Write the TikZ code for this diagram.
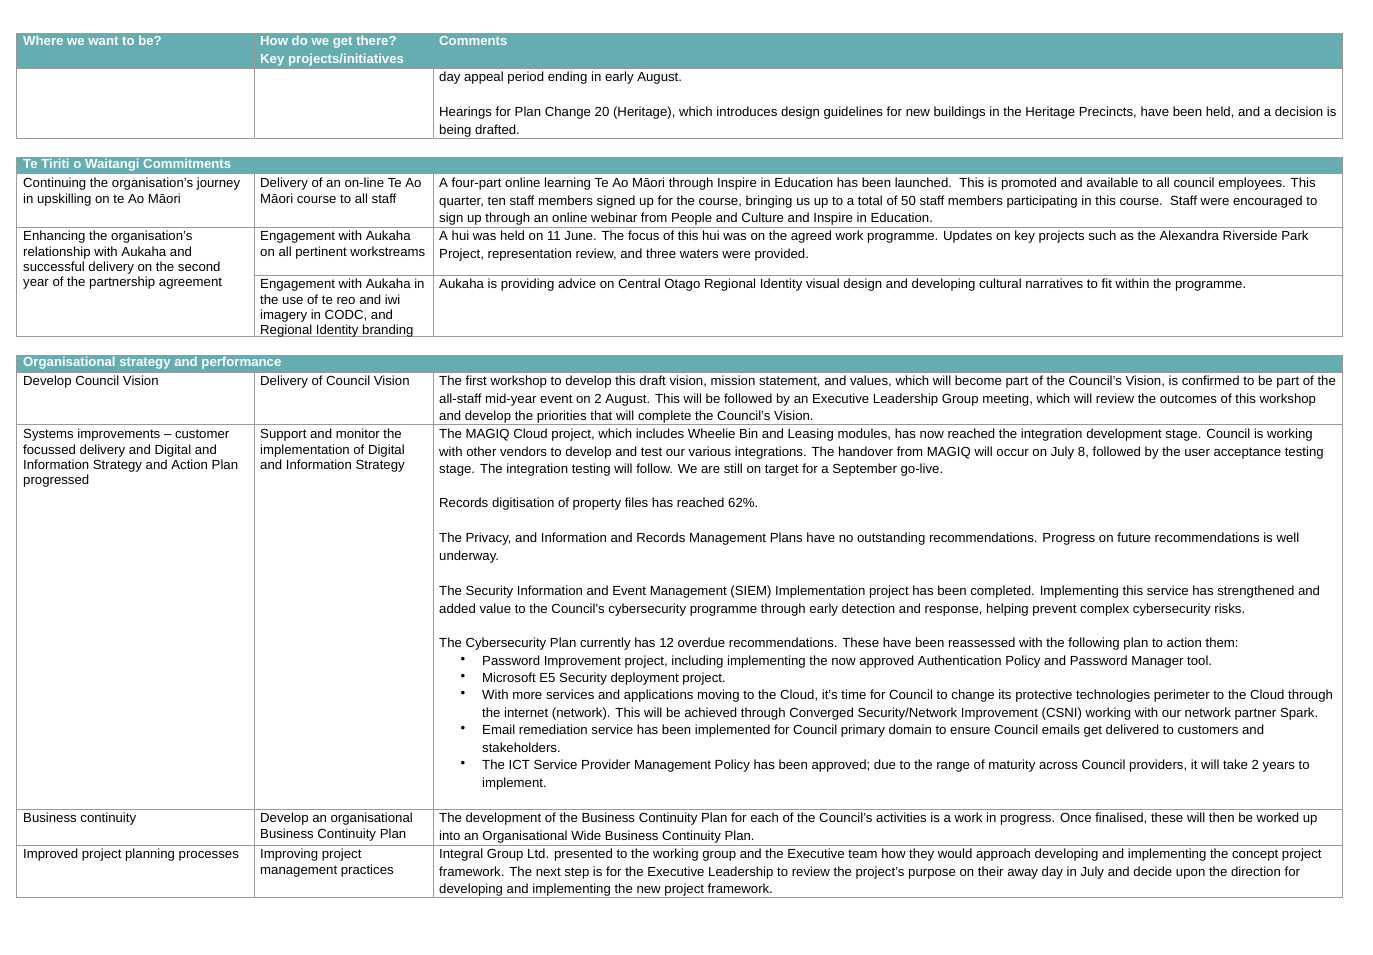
\documentclass[tikz,border=0pt]{standalone}
\usepackage{fontspec}
\setmainfont{Liberation Sans}
\definecolor{teal}{HTML}{64ADB1}
\definecolor{rule}{HTML}{9A9A9A}
\tikzset{
  cell/.style={anchor=north west, inner sep=0pt, align=left, font=\fontsize{13.2}{15.3}\selectfont},
  comm/.style={cell, font=\fontsize{13.2}{17.4}\selectfont},
  head/.style={cell, text=white, font=\fontsize{13.2}{17.4}\selectfont\bfseries},
  grid/.style={draw=rule, line width=0.8pt},
  band/.style={fill=teal, draw=rule, line width=0.8pt}
}
\begin{document}
\begin{tikzpicture}[x=1pt,y=-1pt]
  \useasboundingbox (0,0) rectangle (1373,955);
  % first block
  \draw[band] (16,33) rectangle (1342,68);
  \draw[grid] (16,68) rectangle (1342,138);
  \draw[grid] (254,33) -- (254,138) (433,33) -- (433,138);
  \node[head] (h1) at (23,36) {Where we want to be?};
  \node[head] (h2) at (260,36) {How do we get there?\\Key projects/initiatives};
  \node[head] (h3) at (439,36) {Comments};
  \node[comm] (c0a) at (439,72) {day appeal period ending in early August.};
  \node[comm] (c0b) at (439,107) {Hearings for Plan Change 20 (Heritage), which introduces design guidelines for new buildings in the Heritage Precincts, have been held, and a decision is\\being drafted.};
  % Te Tiriti block
  \draw[band] (16,157) rectangle (1342,173);
  \draw[grid] (16,173) rectangle (1342,336);
  \draw[grid] (254,173) -- (254,336) (433,173) -- (433,336);
  \draw[grid] (16,227) -- (1342,227) (254,275) -- (1342,275);
  \node[head] (t0) at (23,159) {Te Tiriti o Waitangi Commitments};
  \node[cell] (t1a) at (23,178) {Continuing the organisation's journey\\in upskilling on te Ao Māori};
  \node[cell] (t1b) at (260,178) {Delivery of an on-line Te Ao\\Māori course to all staff};
  \node[comm] (t1c) at (439,178) {A four-part online learning Te Ao Māori through Inspire in Education has been launched.\ \ This is promoted and available to all council employees. This\\quarter, ten staff members signed up for the course, bringing us up to a total of 50 staff members participating in this course.\ \ Staff were encouraged to\\sign up through an online webinar from People and Culture and Inspire in Education.};
  \node[cell] (t2a) at (23,231) {Enhancing the organisation's\\relationship with Aukaha and\\successful delivery on the second\\year of the partnership agreement};
  \node[cell] (t2b) at (260,231) {Engagement with Aukaha\\on all pertinent workstreams};
  \node[comm] (t2c) at (439,231) {A hui was held on 11 June. The focus of this hui was on the agreed work programme. Updates on key projects such as the Alexandra Riverside Park\\Project, representation review, and three waters were provided.};
  \node[cell] (t3b) at (260,279) {Engagement with Aukaha in\\the use of te reo and iwi\\imagery in CODC, and\\Regional Identity branding};
  \node[comm] (t3c) at (439,279) {Aukaha is providing advice on Central Otago Regional Identity visual design and developing cultural narratives to fit within the programme.};
  % Organisational block
  \draw[band] (16,355) rectangle (1342,372);
  \draw[grid] (16,372) rectangle (1342,897);
  \draw[grid] (254,372) -- (254,897) (433,372) -- (433,897);
  \draw[grid] (16,424) -- (1342,424) (16,809) -- (1342,809) (16,845) -- (1342,845);
  \node[head] (o0) at (23,357) {Organisational strategy and performance};
  \node[cell] (o1a) at (23,376) {Develop Council Vision};
  \node[cell] (o1b) at (260,376) {Delivery of Council Vision};
  \node[comm] (o1c) at (439,376) {The first workshop to develop this draft vision, mission statement, and values, which will become part of the Council's Vision, is confirmed to be part of the\\all-staff mid-year event on 2 August. This will be followed by an Executive Leadership Group meeting, which will review the outcomes of this workshop\\and develop the priorities that will complete the Council's Vision.};
  \node[cell] (o2a) at (23,429) {Systems improvements – customer\\focussed delivery and Digital and\\Information Strategy and Action Plan\\progressed};
  \node[cell] (o2b) at (260,429) {Support and monitor the\\implementation of Digital\\and Information Strategy};
  \node[comm] (o2c) at (439,429) {The MAGIQ Cloud project, which includes Wheelie Bin and Leasing modules, has now reached the integration development stage. Council is working\\with other vendors to develop and test our various integrations. The handover from MAGIQ will occur on July 8, followed by the user acceptance testing\\stage. The integration testing will follow. We are still on target for a September go-live.};
  \node[comm] (o2d) at (439,498) {Records digitisation of property files has reached 62\%.};
  \node[comm] (o2e) at (439,533) {The Privacy, and Information and Records Management Plans have no outstanding recommendations. Progress on future recommendations is well\\underway.};
  \node[comm] (o2f) at (439,586) {The Security Information and Event Management (SIEM) Implementation project has been completed. Implementing this service has strengthened and\\added value to the Council's cybersecurity programme through early detection and response, helping prevent complex cybersecurity risks.};
  \node[comm] (o2g) at (439,638) {The Cybersecurity Plan currently has 12 overdue recommendations. These have been reassessed with the following plan to action them:};
  \foreach \y in {660,677,694,729,764}
    \node[comm, anchor=center] at (463,\y) {\textbullet};
  \node[comm] (b1) at (482,656) {Password Improvement project, including implementing the now approved Authentication Policy and Password Manager tool.};
  \node[comm] (b2) at (482,673) {Microsoft E5 Security deployment project.};
  \node[comm] (b3) at (482,690) {With more services and applications moving to the Cloud, it's time for Council to change its protective technologies perimeter to the Cloud through\\the internet (network). This will be achieved through Converged Security/Network Improvement (CSNI) working with our network partner Spark.};
  \node[comm] (b4) at (482,725) {Email remediation service has been implemented for Council primary domain to ensure Council emails get delivered to customers and\\stakeholders.};
  \node[comm] (b5) at (482,760) {The ICT Service Provider Management Policy has been approved; due to the range of maturity across Council providers, it will take 2 years to\\implement.};
  \node[cell] (o3a) at (23,813) {Business continuity};
  \node[cell] (o3b) at (260,813) {Develop an organisational\\Business Continuity Plan};
  \node[comm] (o3c) at (439,813) {The development of the Business Continuity Plan for each of the Council's activities is a work in progress. Once finalised, these will then be worked up\\into an Organisational Wide Business Continuity Plan.};
  \node[cell] (o4a) at (23,849) {Improved project planning processes};
  \node[cell] (o4b) at (260,849) {Improving project\\management practices};
  \node[comm] (o4c) at (439,849) {Integral Group Ltd. presented to the working group and the Executive team how they would approach developing and implementing the concept project\\framework. The next step is for the Executive Leadership to review the project's purpose on their away day in July and decide upon the direction for\\developing and implementing the new project framework.};
\end{tikzpicture}
\end{document}
